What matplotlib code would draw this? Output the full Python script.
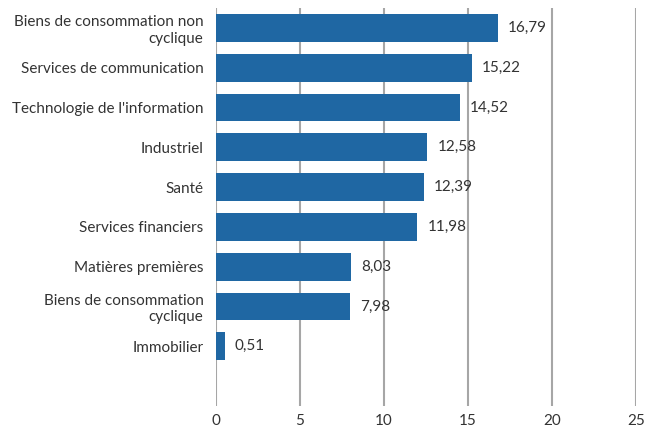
import matplotlib
matplotlib.use("Agg")
import matplotlib.pyplot as plt

categories = ["Biens de consommation non\ncyclique", "Services de communication",
              "Technologie de l'information", "Industriel", "Santé",
              "Services financiers", "Matières premières",
              "Biens de consommation\ncyclique", "Immobilier"]
values = [16.79, 15.22, 14.52, 12.58, 12.39, 11.98, 8.03, 7.98, 0.51]
labels = ["16,79", "15,22", "14,52", "12,58", "12,39", "11,98", "8,03", "7,98", "0,51"]
xticks = [0, 5, 10, 15, 20, 25]

plt.rcParams['font.family'] = ['Lato', 'DejaVu Sans']
fig = plt.figure(figsize=(6.46, 4.30), dpi=100)
ax = fig.add_axes([216/646, 1-406/430, 420/646, 398/430])

pos = list(range(len(categories)))
ax.barh(pos, values, height=0.7, color="#1f67a3", zorder=3)
for p, v, l in zip(pos, values, labels):
    ax.text(v + 0.6, p, l, va="center", ha="left", fontsize=11, color="#333333")

ax.set_xlim(0, 25)
ax.set_ylim(9.5, -0.5)
ax.set_yticks(pos)
ax.set_yticklabels(categories, fontsize=11, color="#333333", ha="right")
ax.set_xticks(xticks)
ax.set_xticklabels([str(x) for x in xticks], fontsize=11, color="#333333")
ax.tick_params(axis="y", length=0, pad=9)
ax.tick_params(axis="x", length=0, pad=6)
ax.grid(axis="x", color="#a6a6a6", linewidth=1.5, zorder=0)
for s in ax.spines.values():
    s.set_visible(False)
for t in ax.get_yticklabels():
    t.set_multialignment("right")

fig.savefig("out.png", dpi=100)
